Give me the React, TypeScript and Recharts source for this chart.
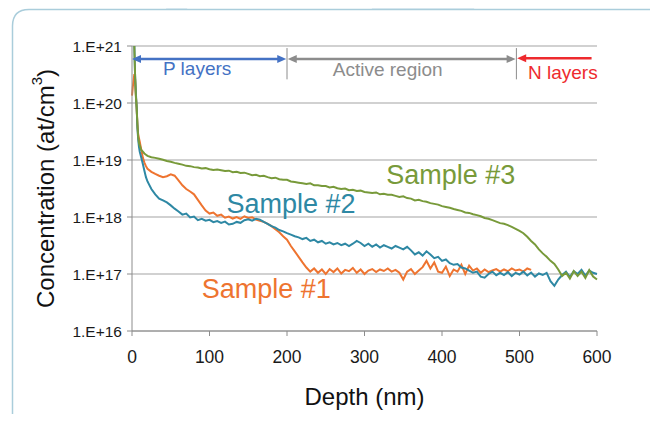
import React from 'react';
import { LineChart, Line, XAxis, YAxis, CartesianGrid, ReferenceLine, ReferenceDot } from 'recharts';

const depth = [
  0, 1, 2, 3, 4, 5, 6, 7, 8, 9,
  10, 12, 14, 16, 18, 20, 25, 30, 35, 40,
  45, 50, 55, 60, 65, 70, 75, 80, 85, 90,
  95, 100, 105, 110, 115, 120, 125, 130, 135, 140,
  145, 150, 155, 160, 165, 170, 175, 180, 185, 190,
  195, 200, 205, 210, 215, 220, 225, 230, 235, 240,
  245, 250, 255, 260, 265, 270, 275, 280, 285, 290,
  295, 300, 305, 310, 315, 320, 325, 330, 335, 340,
  345, 350, 355, 360, 365, 370, 375, 380, 385, 390,
  395, 400, 405, 410, 415, 420, 425, 430, 435, 440,
  445, 450, 455, 460, 465, 470, 475, 480, 485, 490,
  495, 500, 505, 510, 515, 520, 525, 530, 535, 540,
  545, 550, 555, 560, 565, 570, 575, 580, 585, 590,
  595, 600,
];

const sample1 = [
  1.35e20, 1.9e20, 2.5e20, 3.2e20, 2.6e20, 1.4e20, 8.0e19, 4.2e19, 2.8e19, 2.4e19,
  2.1e19, 1.5e19, 1.1e19, 9.0e18, 7.8e18, 7.0e18, 6.2e18, 5.7e18, 5.3e18, 5.0e18,
  5.2e18, 5.6e18, 5.3e18, 4.4e18, 3.6e18, 3.1e18, 2.8e18, 2.5e18, 2.0e18, 1.6e18,
  1.3e18, 1.15e18, 1.2e18, 1.05e18, 1.1e18, 9.7e17, 1.02e18, 9.4e17, 1.0e18, 9.3e17,
  1.03e18, 9.6e17, 9.9e17, 9.0e17, 8.6e17, 8.2e17, 7.6e17, 6.9e17, 6.1e17, 5.4e17,
  4.6e17, 4.0e17, 3.1e17, 2.5e17, 2.0e17, 1.6e17, 1.3e17, 1.1e17, 1.25e17, 1.05e17,
  1.2e17, 1.0e17, 1.22e17, 1.08e17, 1.25e17, 1.02e17, 1.18e17, 1.12e17, 1.28e17, 1.05e17,
  1.2e17, 1.0e17, 1.15e17, 1.22e17, 1.08e17, 1.2e17, 1.13e17, 1.25e17, 1.1e17, 1.18e17,
  1.05e17, 8.0e16, 1.1e17, 1.22e17, 1.0e17, 1.15e17, 1.32e17, 1.7e17, 1.25e17, 1.6e17,
  1.1e17, 1.05e17, 1.35e17, 9.2e16, 1.2e17, 1.1e17, 1.45e17, 1.0e17, 1.4e17, 1.15e17,
  1.25e17, 1.05e17, 1.2e17, 1.08e17, 1.15e17, 1.22e17, 1.1e17, 1.2e17, 1.12e17, 1.25e17,
  1.15e17, 1.2e17, 1.1e17, 1.25e17, 1.18e17, null, null, null, null, null,
  null, null, null, null, null, null, null, null, null, null,
  null, null,
];

const sample2 = [
  5e21, 3e21, 1.6e21, 1.0e21, 3.0e20, 1.5e20, 8.5e19, 3.6e19, 2.3e19, 1.7e19,
  1.4e19, 1.1e19, 8.5e18, 6.5e18, 5.0e18, 4.2e18, 3.1e18, 2.5e18, 2.1e18, 1.95e18,
  1.8e18, 1.6e18, 1.4e18, 1.25e18, 1.1e18, 1.15e18, 9.8e17, 1.02e18, 8.8e17, 9.3e17,
  8.6e17, 8.9e17, 8.1e17, 8.5e17, 7.9e17, 8.3e17, 7.4e17, 7.6e17, 8.2e17, 7.9e17,
  8.8e17, 9.1e17, 8.6e17, 9.3e17, 9.0e17, 8.2e17, 7.6e17, 6.9e17, 6.5e17, 5.9e17,
  5.6e17, 5.2e17, 4.9e17, 4.6e17, 4.4e17, 4.1e17, 4.3e17, 3.8e17, 4.0e17, 3.6e17,
  3.8e17, 3.4e17, 3.6e17, 3.3e17, 3.5e17, 3.2e17, 3.4e17, 3.1e17, 3.4e17, 3.8e17,
  3.5e17, 3.1e17, 3.4e17, 3.0e17, 3.3e17, 2.9e17, 3.2e17, 3.0e17, 2.8e17, 3.1e17,
  2.9e17, 2.7e17, 3.0e17, 2.6e17, 2.2e17, 2.4e17, 2.1e17, 2.5e17, 2.2e17, 1.9e17,
  2.0e17, 1.7e17, 1.8e17, 1.55e17, 1.45e17, 1.5e17, 1.3e17, 1.25e17, 1.15e17, 1.05e17,
  1.1e17, 9.0e16, 8.6e16, 1.0e17, 1.1e17, 9.5e16, 1.05e17, 9.6e16, 1.08e17, 9.2e16,
  1.05e17, 9.8e16, 1.1e17, 9.4e16, 1.06e17, 9.0e16, 1.02e17, 9.6e16, 1.05e17, 7.5e16,
  6.2e16, 8.0e16, 9.6e16, 1.1e17, 8.8e16, 1.12e17, 1.0e17, 1.18e17, 9.4e16, 1.15e17,
  1.05e17, 1.0e17,
];

const sample3 = [
  5e21, 3e21, 1.6e21, 1.0e21, 3.0e20, 1.3e20, 8.5e19, 4.2e19, 2.5e19, 2.0e19,
  1.8e19, 1.5e19, 1.4e19, 1.3e19, 1.24e19, 1.18e19, 1.12e19, 1.09e19, 1.05e19, 1.01e19,
  9.6e18, 9.3e18, 8.9e18, 8.6e18, 8.3e18, 7.9e18, 7.8e18, 7.5e18, 7.4e18, 7.1e18,
  7.2e18, 6.9e18, 6.7e18, 6.8e18, 6.6e18, 6.4e18, 6.5e18, 6.1e18, 6.2e18, 5.9e18,
  6.0e18, 5.7e18, 5.4e18, 5.5e18, 5.2e18, 5.3e18, 5.0e18, 4.8e18, 4.9e18, 4.6e18,
  4.5e18, 4.5e18, 4.2e18, 4.1e18, 4.0e18, 3.9e18, 3.8e18, 3.9e18, 3.6e18, 3.6e18,
  3.5e18, 3.5e18, 3.3e18, 3.4e18, 3.2e18, 3.1e18, 3.15e18, 2.95e18, 3.0e18, 2.85e18,
  2.9e18, 2.75e18, 2.7e18, 2.65e18, 2.7e18, 2.5e18, 2.55e18, 2.45e18, 2.45e18, 2.35e18,
  2.25e18, 2.3e18, 2.15e18, 2.1e18, 1.95e18, 2.0e18, 1.9e18, 1.85e18, 1.75e18, 1.7e18,
  1.65e18, 1.55e18, 1.5e18, 1.45e18, 1.38e18, 1.33e18, 1.28e18, 1.2e18, 1.18e18, 1.12e18,
  1.08e18, 1.03e18, 9.6e17, 9.3e17, 8.8e17, 8.3e17, 7.8e17, 7.6e17, 7.2e17, 6.7e17,
  6.2e17, 5.7e17, 5.2e17, 4.5e17, 3.8e17, 3.3e17, 2.7e17, 2.3e17, 2.0e17, 1.7e17,
  1.5e17, 1.2e17, 9.2e16, 1.05e17, 8.3e16, 1.12e17, 9.2e16, 1.1e17, 8.5e16, 1.17e17,
  9.0e16, 8.0e16,
];

const xTicks = [0, 100, 200, 300, 400, 500, 600];
const yTicks = [1e16, 1e17, 1e18, 1e19, 1e20, 1e21];
const yTickLabels = ['1.E+16', '1.E+17', '1.E+18', '1.E+19', '1.E+20', '1.E+21'];

const rows = depth.map((d, i) => ({ depth: d, s1: sample1[i], s2: sample2[i], s3: sample3[i] }));

const C1 = '#EE7430';
const C2 = '#2E88A4';
const C3 = '#789A3A';
const BLUE = '#4472C4';
const GRAY = '#8C8C8C';
const RED = '#EE2A2E';

const arrow = (color: string, headLeft: boolean, headRight: boolean) => (p: any) => {
  const { x1, y1, x2 } = p;
  const l = Math.min(x1, x2);
  const r = Math.max(x1, x2);
  const y = y1;
  return (
    <g>
      <line x1={l + (headLeft ? 4 : 0)} y1={y} x2={r - (headRight ? 4 : 0)} y2={y} stroke={color} strokeWidth={2.5} />
      {headLeft && <polygon points={`${l},${y} ${l + 9},${y - 4} ${l + 9},${y + 4}`} fill={color} />}
      {headRight && <polygon points={`${r},${y} ${r - 9},${y - 4} ${r - 9},${y + 4}`} fill={color} />}
    </g>
  );
};

const textAt = (txt: string, color: string, size: number) => (p: any) => (
  <text x={p.cx} y={p.cy} fill={color} fontSize={size} textAnchor="start">{txt}</text>
);

const yTitle = (props: any) => {
  const vb = props.viewBox;
  const cx = 37;
  const cy = vb.y + vb.height / 2;
  return (
    <text x={cx} y={cy} transform={`rotate(-90, ${cx}, ${cy})`} textAnchor="middle" dominantBaseline="central" fontSize={24} fill="#111">
      <tspan>Concentration (at/cm</tspan>
      <tspan fontSize={15} dy={-9}>3</tspan>
      <tspan dy={9}>)</tspan>
    </text>
  );
};

const xTitle = (props: any) => {
  const vb = props.viewBox;
  return (
    <text x={vb.x + vb.width / 2} y={397} textAnchor="middle" fontSize={24} fill="#111">Depth (nm)</text>
  );
};

export default function App() {
  return (
    <div style={{ position: 'relative', width: 650, height: 406, fontFamily: '"Liberation Sans", Arial, sans-serif' }}>
      <svg width={658} height={422} style={{ position: 'absolute', left: -8, top: -8 }}>
        <polygon points="168,0 190,0 187,9 166,9" fill="#E3EEF5" />
        <polygon points="370,0 477,0 474,9 372,9" fill="#E3EEF5" />
        <path d="M 12.5 422 L 12.5 26 Q 12.5 9.5 29 9.5 L 658 9.5" fill="none" stroke="#AACDDB" strokeWidth={1.5} />
      </svg>
      <div style={{ position: 'absolute', left: 0, top: 0 }}>
        <LineChart width={650} height={406} data={rows} margin={{ top: 38, right: 61, bottom: 0, left: 0 }}>
          <CartesianGrid horizontal vertical={false} stroke="#A3A3A3" strokeWidth={1} />
          <XAxis
            dataKey="depth"
            type="number"
            domain={[0, 600]}
            ticks={xTicks}
            height={83}
            tickSize={5}
            tickMargin={15}
            stroke="#8C8C8C"
            tick={{ fontSize: 17.5, fill: '#1a1a1a' }}
            label={{ content: xTitle }}
          />
          <YAxis
            scale="log"
            domain={[1e16, 1e21]}
            ticks={yTicks}
            allowDataOverflow
            width={124}
            tickSize={5}
            tickMargin={5}
            stroke="#8C8C8C"
            tick={{ fontSize: 15.5, fill: '#1a1a1a' }}
            tickFormatter={(v: number) => yTickLabels[yTicks.indexOf(v)] ?? ''}
            label={{ content: yTitle }}
          />
          <Line dataKey="s1" stroke={C1} strokeWidth={2} dot={false} isAnimationActive={false} />
          <Line dataKey="s2" stroke={C2} strokeWidth={2} dot={false} isAnimationActive={false} />
          <Line dataKey="s3" stroke={C3} strokeWidth={2} dot={false} isAnimationActive={false} />
          <ReferenceLine segment={[{ x: 200, y: 9.2e20 }, { x: 200, y: 2.6e20 }]} stroke={GRAY} strokeWidth={1} />
          <ReferenceLine segment={[{ x: 496, y: 9.2e20 }, { x: 496, y: 2.6e20 }]} stroke={GRAY} strokeWidth={1} />
          <ReferenceLine segment={[{ x: 0, y: 5.9e20 }, { x: 199, y: 5.9e20 }]} shape={arrow(BLUE, true, true)} />
          <ReferenceLine segment={[{ x: 201, y: 5.9e20 }, { x: 495, y: 5.9e20 }]} shape={arrow(GRAY, true, true)} />
          <ReferenceLine segment={[{ x: 497, y: 6.1e20 }, { x: 593, y: 6.1e20 }]} shape={arrow(RED, true, false)} />
          <ReferenceDot x={40} y={3.1e20} shape={textAt('P layers', BLUE, 19)} />
          <ReferenceDot x={259} y={2.95e20} shape={textAt('Active region', GRAY, 19)} />
          <ReferenceDot x={511} y={2.63e20} shape={textAt('N layers', RED, 19)} />
          <ReferenceDot x={328} y={3.8e18} shape={textAt('Sample #3', C3, 27)} />
          <ReferenceDot x={122} y={1.17e18} shape={textAt('Sample #2', C2, 27)} />
          <ReferenceDot x={90} y={3.8e16} shape={textAt('Sample #1', C1, 27)} />
        </LineChart>
      </div>
    </div>
  );
}
